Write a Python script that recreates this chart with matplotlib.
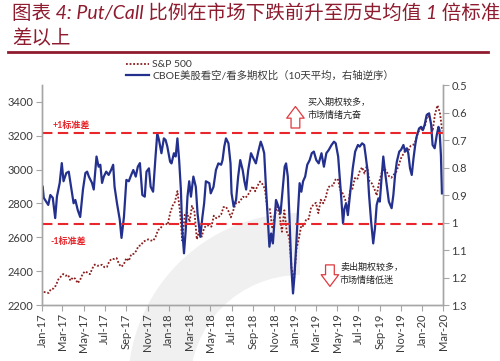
import matplotlib
matplotlib.use("Agg")
import matplotlib.pyplot as plt
from matplotlib.patches import Wedge
from matplotlib.lines import Line2D
import pandas as pd

plt.rcParams['font.family'] = ['Lato', 'Noto Sans CJK SC', 'DejaVu Sans']

title_line1 = "图表 4: Put/Call 比例在市场下跌前升至历史均值 1 倍标准"
title_line2 = "差以上"
legend_labels = ["S&P 500", "CBOE美股看空/看多期权比（10天平均，右轴逆序）"]

# S&P 500 weekly closes (Fridays from 2017-01-06)
sp_values = [
    2277, 2275, 2271, 2295, 2297, 2316, 2351, 2367, 2383, 2373, 2378, 2344, 2363,
    2355, 2329, 2349, 2384, 2399, 2391, 2382, 2416, 2439, 2432, 2433, 2438, 2423,
    2425, 2459, 2473, 2472, 2477, 2441, 2426, 2443, 2477, 2461, 2500, 2502, 2519,
    2549, 2553, 2575, 2581, 2588, 2582, 2579, 2602, 2642, 2652, 2675, 2683, 2674,
    2743, 2786, 2810, 2873, 2762, 2581, 2732, 2747, 2691, 2786, 2752, 2588, 2641,
    2604, 2656, 2670, 2670, 2663, 2728, 2713, 2721, 2735, 2779, 2780, 2755, 2718,
    2760, 2801, 2802, 2819, 2840, 2833, 2850, 2875, 2902, 2872, 2905, 2930, 2914,
    2886, 2767, 2768, 2659, 2723, 2781, 2736, 2633, 2760, 2633, 2600, 2417, 2351,
    2532, 2596, 2671, 2665, 2707, 2708, 2776, 2793, 2804, 2743, 2822, 2801, 2834,
    2893, 2907, 2905, 2940, 2946, 2881, 2860, 2826, 2752, 2873, 2887, 2950, 2942,
    2990, 3014, 2977, 3026, 2932, 2919, 2889, 2847, 2926, 2979, 3007, 2992, 2962,
    2952, 2970, 2986, 3023, 3067, 3093, 3120, 3110, 3141, 3146, 3169, 3221, 3240,
    3235, 3265, 3330, 3295, 3226, 3328, 3380, 3338, 3226,
]
sp_dates = pd.date_range("2017-01-06", periods=len(sp_values), freq="W-FRI")

# CBOE put/call ratio, 10-day average
pc_dates = [
    "2017-01-03", "2017-01-06", "2017-01-13", "2017-01-19", "2017-01-25", "2017-02-01",
    "2017-02-08", "2017-02-13", "2017-02-21", "2017-02-27", "2017-03-04", "2017-03-12",
    "2017-03-19", "2017-03-28", "2017-04-02", "2017-04-07", "2017-04-14", "2017-04-21",
    "2017-04-29", "2017-05-06", "2017-05-11", "2017-05-16", "2017-05-25", "2017-05-30",
    "2017-06-07", "2017-06-13", "2017-06-18", "2017-06-23", "2017-06-28", "2017-07-05",
    "2017-07-12", "2017-07-19", "2017-07-25", "2017-07-29", "2017-08-05", "2017-08-13",
    "2017-08-18", "2017-08-25", "2017-09-01", "2017-09-08", "2017-09-15", "2017-09-21",
    "2017-09-28", "2017-10-04", "2017-10-10", "2017-10-17", "2017-10-24", "2017-10-29",
    "2017-11-05", "2017-11-10", "2017-11-17", "2017-11-24", "2017-11-29", "2017-12-04",
    "2017-12-11", "2017-12-18", "2017-12-23", "2017-12-28",
    "2018-01-05", "2018-01-09", "2018-01-16", "2018-01-21", "2018-01-26", "2018-01-31",
    "2018-02-05", "2018-02-09", "2018-02-14", "2018-02-19", "2018-02-24", "2018-03-01",
    "2018-03-06", "2018-03-13", "2018-03-20", "2018-03-25", "2018-04-02", "2018-04-08",
    "2018-04-13", "2018-04-18", "2018-04-28", "2018-05-02", "2018-05-10", "2018-05-17",
    "2018-05-24", "2018-06-01", "2018-06-05", "2018-06-10", "2018-06-15", "2018-06-22",
    "2018-06-28", "2018-07-01", "2018-07-07", "2018-07-14", "2018-07-20", "2018-07-26",
    "2018-08-02", "2018-08-07", "2018-08-12", "2018-08-18", "2018-08-26", "2018-09-02",
    "2018-09-09", "2018-09-16", "2018-09-23", "2018-09-28", "2018-10-03", "2018-10-08",
    "2018-10-13", "2018-10-18", "2018-10-23", "2018-10-28", "2018-11-02", "2018-11-06",
    "2018-11-13", "2018-11-19", "2018-11-26", "2018-12-01", "2018-12-05", "2018-12-10",
    "2018-12-15", "2018-12-20", "2018-12-25", "2018-12-29",
    "2019-01-03", "2019-01-08", "2019-01-13", "2019-01-18", "2019-01-23", "2019-01-29",
    "2019-02-04", "2019-02-11", "2019-02-17", "2019-02-23", "2019-03-02", "2019-03-09",
    "2019-03-17", "2019-03-24", "2019-03-31", "2019-04-07", "2019-04-15", "2019-04-22",
    "2019-04-27", "2019-05-04", "2019-05-12", "2019-05-18", "2019-05-22", "2019-05-27",
    "2019-06-01", "2019-06-09", "2019-06-15", "2019-06-22", "2019-06-30", "2019-07-05",
    "2019-07-12", "2019-07-18", "2019-07-22", "2019-07-28", "2019-08-01", "2019-08-07",
    "2019-08-13", "2019-08-18", "2019-08-23", "2019-08-28", "2019-09-01", "2019-09-06",
    "2019-09-11", "2019-09-16", "2019-09-21", "2019-09-27", "2019-10-05", "2019-10-10",
    "2019-10-15", "2019-10-20", "2019-10-27", "2019-11-01", "2019-11-08", "2019-11-13",
    "2019-11-18", "2019-11-22", "2019-11-27", "2019-12-02", "2019-12-07", "2019-12-12",
    "2019-12-16", "2019-12-23", "2019-12-29",
    "2020-01-03", "2020-01-08", "2020-01-14", "2020-01-21", "2020-01-27", "2020-01-31",
    "2020-02-06", "2020-02-12", "2020-02-17", "2020-02-20", "2020-02-24", "2020-02-27",
]
pc_values = [
    0.870, 0.910, 0.924, 0.936, 0.900, 0.910,
    0.984, 0.906, 0.856, 0.784, 0.850, 0.820,
    0.815, 0.890, 0.930, 0.918, 0.955, 0.980,
    0.880, 0.820, 0.815, 0.833, 0.856, 0.880,
    0.760, 0.797, 0.790, 0.856, 0.833, 0.815,
    0.827, 0.809, 0.790, 0.870, 0.930, 0.990,
    1.056, 0.980, 0.845, 0.850, 0.827, 0.809,
    0.833, 0.797, 0.784, 0.900, 0.906, 0.815,
    0.803, 0.870, 0.888, 0.760, 0.676, 0.700,
    0.748, 0.694, 0.700, 0.724,
    0.779, 0.785, 0.748, 0.760, 0.694, 0.773,
    0.880, 1.027, 1.112, 1.027, 0.906, 0.850,
    0.906, 0.833, 0.870, 0.967, 1.052, 0.980,
    0.930, 0.850, 0.857, 0.894, 0.870, 0.809,
    0.785, 0.790, 0.773, 0.724, 0.694, 0.712,
    0.785, 0.894, 0.942, 0.918, 0.833, 0.773,
    0.809, 0.850, 0.880, 0.809, 0.748, 0.767,
    0.785, 0.742, 0.706, 0.724, 0.748, 0.870,
    0.980, 1.088, 1.040, 1.076, 0.990, 0.918,
    0.942, 0.967, 0.870, 0.797, 0.785, 0.833,
    0.990, 1.160, 1.258, 1.197,
    1.088, 0.967, 0.857, 0.888, 0.850, 0.833,
    0.790, 0.773, 0.748, 0.742, 0.773, 0.785,
    0.748, 0.797, 0.748, 0.736, 0.718, 0.706,
    0.712, 0.760, 0.894, 1.003, 0.950, 0.930,
    0.973, 0.876, 0.803, 0.742, 0.718, 0.724,
    0.712, 0.718, 0.755, 0.815, 0.900, 0.997,
    1.076, 1.021, 0.936, 0.912, 0.924, 0.839,
    0.760, 0.815, 0.864, 0.924, 0.948, 0.900,
    0.827, 0.779, 0.742, 0.736, 0.718, 0.742,
    0.730, 0.748, 0.803, 0.827, 0.767, 0.718,
    0.688, 0.658, 0.652,
    0.664, 0.645, 0.609, 0.603, 0.645, 0.718,
    0.730, 0.682, 0.652, 0.664, 0.755, 0.894,
]
assert len(pc_dates) == len(pc_values)

std_plus = 0.673
std_minus = 1.005
left_ticks = [2200, 2400, 2600, 2800, 3000, 3200, 3400]
right_ticks = [0.5, 0.6, 0.7, 0.8, 0.9, 1.0, 1.1, 1.2, 1.3]
right_ticklabels = ["0.5", "0.6", "0.7", "0.8", "0.9", "1", "1.1", "1.2", "1.3"]
xtick_dates = pd.date_range("2017-01-01", "2020-03-01", freq="2MS")

TITLE_C = '#8E1B2E'
RED = '#E8262B'
NAVY = '#23308E'
SPX_C = '#8B1E1E'
GRID_C = '#A6A6A6'
TXT_C = '#3A3A3A'

fig = plt.figure(figsize=(5.0, 3.61), dpi=100)

# faint watermark background
bg = fig.add_axes([0, 0, 1, 1], zorder=-10)
bg.set_xlim(0, 500)
bg.set_ylim(361, 0)
bg.axis('off')
bg.add_patch(Wedge((300, 385), 172, 90, 270, width=62, color='#F0F0F0', lw=0))

ax = fig.add_axes([0.084, 0.1551, 0.802, 0.6094])
ax.patch.set_alpha(0)
ax2 = ax.twinx()
ax2.patch.set_alpha(0)

l1, = ax.plot(sp_dates, sp_values, ls=(0, (1, 1)), color=SPX_C, lw=1.3)
ax.set_ylim(2200, 3500)
ax.set_yticks(left_ticks)
ax.set_xlim(pd.Timestamp("2017-01-01"), pd.Timestamp("2020-03-01"))
ax.set_xticks(xtick_dates)
ax.set_xticklabels([d.strftime("%b-%y") for d in xtick_dates], rotation=90)

l2, = ax2.plot(pd.to_datetime(pc_dates), pc_values, color=NAVY, lw=1.6)
ax2.set_ylim(1.3, 0.5)
ax2.set_yticks(right_ticks)
ax2.set_yticklabels(right_ticklabels)
for lvl in (std_plus, std_minus):
    ax2.axhline(lvl, color=RED, lw=1.5, ls=(0, (5, 2.6)))

for a in (ax, ax2):
    a.spines['top'].set_visible(False)
    for s in ('left', 'right', 'bottom'):
        a.spines[s].set_color(GRID_C)
        a.spines[s].set_linewidth(1.0)
ax.tick_params(axis='y', direction='out', length=4, color=GRID_C, labelsize=8,
               labelcolor=TXT_C, pad=2)
ax.tick_params(axis='x', direction='out', length=4, color=GRID_C, labelsize=8,
               labelcolor=TXT_C, pad=2)
ax2.tick_params(axis='y', direction='out', length=4, color=GRID_C, labelsize=8,
                labelcolor=TXT_C, pad=2)

# std labels
ax.text(0.027, 0.818, "+1标准差", transform=ax.transAxes, color=RED, fontsize=6.5,
        va='center', ha='left', fontweight='bold')
ax.text(0.020, 0.288, "-1标准差", transform=ax.transAxes, color=RED, fontsize=6.5,
        va='center', ha='left', fontweight='bold')

arrow_style = 'simple,head_width=0.9,head_length=0.6,tail_width=0.45'
ax.annotate("", xy=(0.632, 0.915), xytext=(0.632, 0.792), xycoords='axes fraction',
            arrowprops=dict(arrowstyle=arrow_style, fc='white', ec='#E0393E', lw=0.9,
                            mutation_scale=14))
ax.annotate("", xy=(0.718, 0.072), xytext=(0.718, 0.195), xycoords='axes fraction',
            arrowprops=dict(arrowstyle=arrow_style, fc='white', ec='#E0393E', lw=0.9,
                            mutation_scale=14))
ax.text(0.663, 0.89, "买入期权较多，\n市场情绪亢奋", transform=ax.transAxes,
        fontsize=6.5, color='#222222', va='center', ha='left', linespacing=1.5)
ax.text(0.743, 0.143, "卖出期权较多，\n市场情绪低迷", transform=ax.transAxes,
        fontsize=6.5, color='#222222', va='center', ha='left', linespacing=1.5)

fig.legend([l1, l2], legend_labels, loc='upper left',
           bbox_to_anchor=(126 / 500, 1 - 60 / 361), frameon=False, fontsize=7.5,
           handlelength=2.2, handletextpad=0.3, labelspacing=0.15,
           borderaxespad=0, borderpad=0, labelcolor=TXT_C)

# title
fig.text(12 / 500, 1 - 13 / 361, title_line1, fontsize=14, color=TITLE_C,
         style='italic', va='center', ha='left')
fig.text(12 / 500, 1 - 38 / 361, title_line2, fontsize=14, color=TITLE_C,
         style='italic', va='center', ha='left')
fig.add_artist(Line2D([8 / 500, 488 / 500], [1 - 51.5 / 361] * 2, color=TITLE_C, lw=2))

fig.savefig("out.png", dpi=100)
